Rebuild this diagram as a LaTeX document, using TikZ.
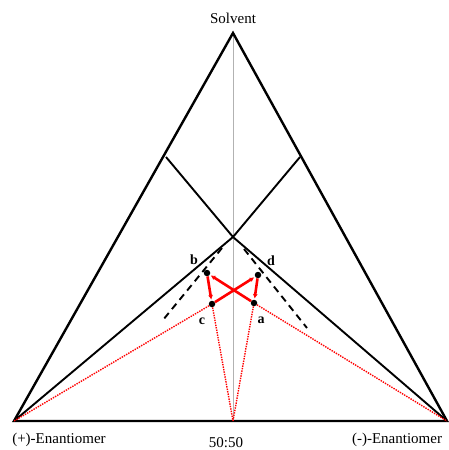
\documentclass[tikz,border=0pt]{standalone}
\usepackage{fontspec}
\setmainfont{Liberation Serif}
\usetikzlibrary{arrows.meta}
\begin{document}
\begin{tikzpicture}[x=1pt,y=-1pt,
  side/.style={line width=2.4pt,line join=miter},
  inner/.style={line width=1.9pt},
  guide/.style={line width=1.9pt,dash pattern=on 7pt off 5pt},
  path/.style={red,line width=2.6pt,-{Latex[length=4.5pt,width=5pt]},shorten >=1pt,shorten <=0pt},
  tie/.style={red,line width=1.4pt,dash pattern=on 1.4pt off 1.1pt},
  pt/.style={circle,fill=black,inner sep=0pt,minimum size=6.5pt},
  lab/.style={font=\fontsize{15}{17}\selectfont},
  ptlab/.style={font=\fontsize{14}{16}\selectfont\bfseries}]
\useasboundingbox (0,0) rectangle (448,450);

\coordinate (S) at (233,33);
\coordinate (P) at (14,421);
\coordinate (M) at (447,421);
\coordinate (H) at (233,421);
\coordinate (O) at (233,237);
\coordinate (L) at (166,157);
\coordinate (R) at (300,157);

\draw[gray!60,line width=0.6pt] (S) -- (H);
\draw[side] (S) -- (P) -- (M) -- cycle;
\draw[inner] (L) -- (O) -- (P);
\draw[inner] (R) -- (O) -- (M);

\draw[guide] (222,248) -- (163,320);
\draw[guide] (244,249) -- (307,328);

\node[pt] (b) at (207,273) {};
\node[pt] (d) at (258,275) {};
\node[pt] (c) at (212,304) {};
\node[pt] (a) at (254,303) {};

\draw[tie] (c) -- (P);
\draw[tie] (c) -- (H);
\draw[tie] (a) -- (H);
\draw[tie] (a) -- (M);

\draw[path] (b) -- (c);
\draw[path] (c) -- (d);
\draw[path] (d) -- (a);
\draw[path] (a) -- (b);

\node[ptlab] (lb) at (194,260) {b};
\node[ptlab] (ld) at (271,261) {d};
\node[ptlab] (lc) at (202,321) {c};
\node[ptlab] (la) at (261,320) {a};

\node[lab] (top) at (233,18) {Solvent};
\node[lab] (left) at (59,440) {(+)-Enantiomer};
\node[lab] (mid) at (226,443) {50:50};
\node[lab] (right) at (397,440) {(-)-Enantiomer};
\end{tikzpicture}
\end{document}
